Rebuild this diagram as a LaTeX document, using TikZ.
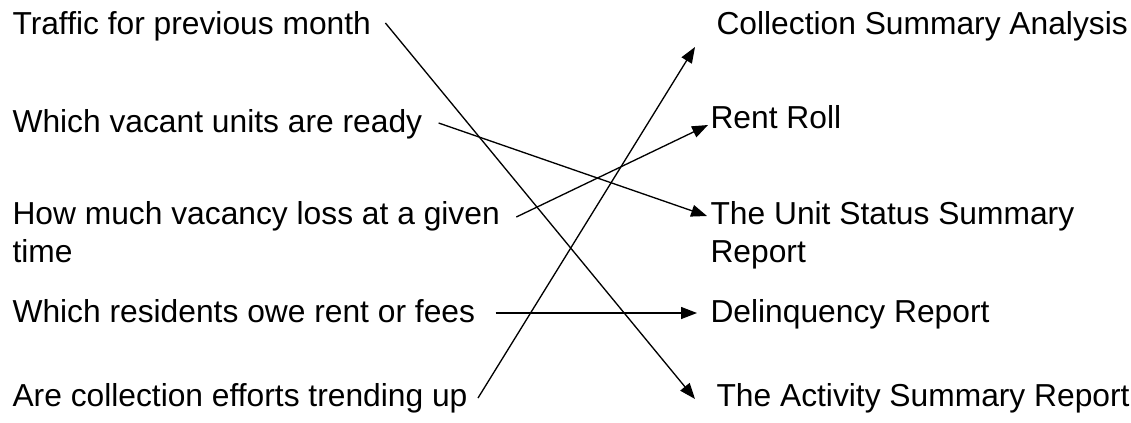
\documentclass[tikz,border=0pt]{standalone}
\usepackage{fontspec}
\setmainfont{Liberation Sans}
\usetikzlibrary{arrows.meta}

\begin{document}
\begin{tikzpicture}[
    x=0.3778pt, y=-0.3778pt,
    item/.style={inner sep=0pt, anchor=base west, align=left,
                 font=\fontsize{12}{14}\selectfont},
    link/.style={-{Triangle[length=6pt,width=4.5pt]}, line width=0.5pt}
]
\useasboundingbox (0,0) rectangle (1131,422);

%% ---- Questions (left) ----
\node[item] (q1) at (12, 34)  {Traffic for previous month};
\node[item] (q2) at (12, 132) {Which vacant units are ready};
\node[item] (q3) at (12, 262) {How much vacancy loss at a given\\time};
\node[item] (q4) at (12, 322) {Which residents owe rent or fees};
\node[item] (q5) at (12, 406) {Are collection efforts trending up};

%% ---- Reports (right) ----
\node[item] (r1) at (716, 34)  {Collection Summary Analysis};
\node[item] (r2) at (710, 128) {Rent Roll};
\node[item] (r3) at (710, 262) {The Unit Status Summary\\Report};
\node[item] (r4) at (710, 322) {Delinquency Report};
\node[item] (r5) at (716, 406) {The Activity Summary Report};

%% ---- Links ----
\draw[link] ([shift={(14,-11)}]q1.base east) -- ([shift={(-21,-7)}]r5.base west);
\draw[link] ([shift={(16,-9)}]q2.base east)  -- ([shift={(-3,-46)}]r3.base west);
\draw[link] ([shift={(16,-45)}]q3.base east) -- ([shift={(-2,-3)}]r2.base west);
\draw[link] ([shift={(20,-9)}]q4.base east)  -- ([shift={(-13,-9)}]r4.base west);
\draw[link] ([shift={(10,-8)}]q5.base east)  -- ([shift={(-21,13)}]r1.base west);

\end{tikzpicture}
\end{document}
